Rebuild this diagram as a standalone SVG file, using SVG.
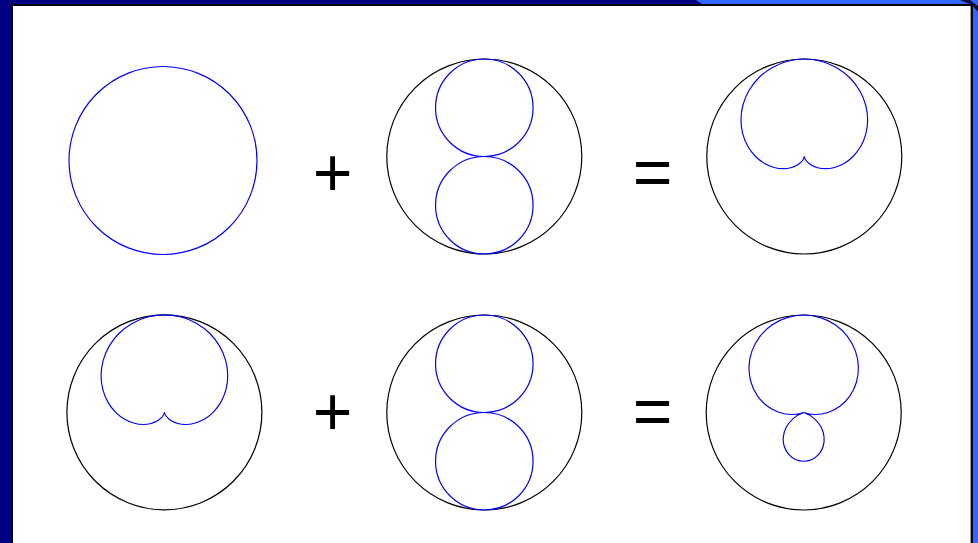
<svg xmlns="http://www.w3.org/2000/svg" width="978" height="543" viewBox="0 0 978 543">
<style>
.ref{fill:none;stroke:#000;stroke-width:1.2}
.pat{fill:none;stroke:#0000ff;stroke-width:1.2;stroke-linejoin:round}
.op{font-family:"Liberation Sans",Arial,sans-serif;font-size:68px;fill:#000;text-anchor:middle}
</style>
<defs>
<path id="cardHalf" d="M0,-100 C5.82,-100 11.63,-99.23 17.23,-97.73 C22.83,-96.23 28.21,-93.99 33.17,-91.13 C38.13,-88.27 42.68,-84.77 46.65,-80.80 C50.62,-76.83 54.03,-72.38 56.76,-67.64 C59.49,-62.91 61.56,-57.89 62.92,-52.80 C64.29,-47.71 64.95,-42.54 64.95,-37.50 C64.95,-32.46 64.28,-27.55 63.05,-22.95 C61.82,-18.35 60.02,-14.05 57.79,-10.19 C55.56,-6.33 52.91,-2.91 50,0 C47.09,2.91 43.93,5.30 40.69,7.17 C37.45,9.04 34.14,10.39 30.92,11.25 C27.70,12.11 24.56,12.5 21.65,12.5 C18.74,12.5 16.06,12.12 13.68,11.48 C11.31,10.84 9.24,9.96 7.52,8.96 C5.80,7.97 4.42,6.87 3.35,5.80 C2.29,4.74 1.54,3.72 1.03,2.84 C0.53,1.97 0.26,1.24 0.13,0.75 C0,0.26 0,0 0,0"/>
<path id="hypHalf" d="M0,-100 C5.82,-100 11.63,-99.10 17.16,-97.36 C22.69,-95.62 27.94,-93.02 32.65,-89.72 C37.36,-86.42 41.54,-82.41 44.98,-77.90 C48.42,-73.39 51.13,-68.39 53.00,-63.16 C54.87,-57.93 55.90,-52.47 56.08,-47.06 C56.26,-41.65 55.58,-36.29 54.13,-31.25 C52.68,-26.21 50.45,-21.49 47.60,-17.32 C44.76,-13.15 41.29,-9.52 37.44,-6.60 C33.59,-3.68 29.36,-1.45 25,0 C20.64,1.45 16.15,2.14 11.80,2.08 C7.68,2.02 3.67,1.30 0,0 C4.08,1.44 7.77,3.60 10.83,6.25 C13.74,8.77 16.09,11.74 17.78,14.92 C19.47,18.10 20.50,21.50 20.86,24.86 C21.22,28.22 20.90,31.55 19.98,34.60 C19.06,37.65 17.53,40.43 15.55,42.74 C13.57,45.05 11.15,46.88 8.48,48.12 C5.81,49.36 2.91,50 0,50"/>
</defs>
<g id="frame">
<rect x="0" y="0" width="978" height="543" fill="#000080"/>
<polygon points="696,0 978,0 978,543 972,543 972,4 702,4" fill="#3366ff"/>
<polygon points="960,0 970,0 978,6 978,12 972,5" fill="#0a0a40"/>
<rect x="11.5" y="4" width="961.5" height="545" fill="#000"/>
<rect x="13" y="6" width="957" height="540" fill="#fff"/>
<rect x="970" y="6" width="1" height="540" fill="#999"/>
</g>
<g id="omni">
<circle class="pat" cx="163" cy="160.5" r="94"/>
</g>
<g id="plus1"><text class="op" x="332.5" y="196">+</text></g>
<g id="fig8a">
<circle class="ref" cx="484.3" cy="156.5" r="97.5"/>
<circle class="pat" cx="484.3" cy="107.75" r="48.75"/>
<circle class="pat" cx="484.3" cy="205.25" r="48.75"/>
</g>
<g id="eq1"><text class="op" x="652.5" y="196">=</text></g>
<g id="cardioid1">
<circle class="ref" cx="804.3" cy="156.5" r="97.5"/>
<use href="#cardHalf" class="pat" transform="translate(804.3,156.5) scale(0.975)"/>
<use href="#cardHalf" class="pat" transform="translate(804.3,156.5) scale(-0.975,0.975)"/>
</g>
<g id="cardioid2">
<circle class="ref" cx="164.4" cy="412.3" r="97.5"/>
<use href="#cardHalf" class="pat" transform="translate(164.4,412.3) scale(0.975)"/>
<use href="#cardHalf" class="pat" transform="translate(164.4,412.3) scale(-0.975,0.975)"/>
</g>
<g id="plus2"><text class="op" x="332.5" y="435">+</text></g>
<g id="fig8b">
<circle class="ref" cx="484.3" cy="412.5" r="97.5"/>
<circle class="pat" cx="484.3" cy="363.75" r="48.75"/>
<circle class="pat" cx="484.3" cy="461.25" r="48.75"/>
</g>
<g id="eq2"><text class="op" x="652.5" y="435">=</text></g>
<g id="hypercardioid">
<circle class="ref" cx="803.7" cy="412.5" r="97.5"/>
<use href="#hypHalf" class="pat" transform="translate(803.7,412.5) scale(0.975)"/>
<use href="#hypHalf" class="pat" transform="translate(803.7,412.5) scale(-0.975,0.975)"/>
</g>
</svg>
